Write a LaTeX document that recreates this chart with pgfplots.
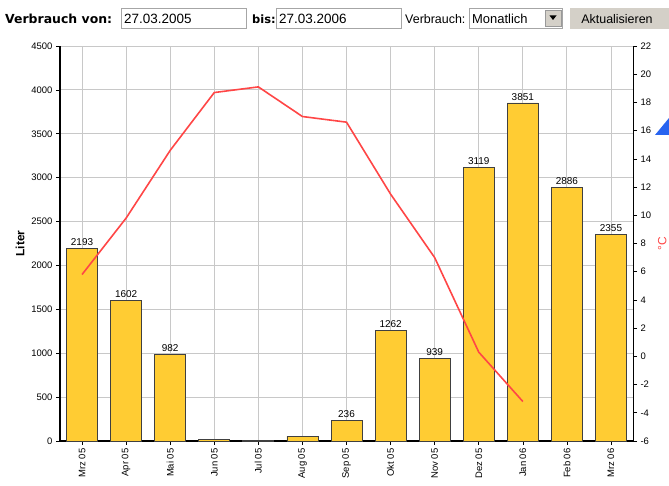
\documentclass[border=0pt]{standalone}
\usepackage{fontspec}
\setmainfont{Liberation Sans}
\newfontfamily\dvs{DejaVu Sans}
\usepackage{pgfplots}
\pgfplotsset{compat=1.18}
\definecolor{barfill}{RGB}{255,204,51}
\definecolor{linered}{RGB}{255,70,70}
\definecolor{gridgray}{RGB}{200,200,200}
\definecolor{btngray}{RGB}{212,208,200}
\definecolor{triblue}{RGB}{40,100,240}
\begin{document}
\begin{tikzpicture}[x=1bp,y=1bp]
\path[use as bounding box] (0,0) rectangle (669,486);
% ---- top form bar ----
\node[anchor=base west, inner sep=0pt, font=\dvs\bfseries\fontsize{12.5}{14}\selectfont] at (5,462) {Verbrauch von:};
\draw[gray!70, fill=white] (121,458) rectangle (246,478);
\node[anchor=base west, inner sep=0pt, font=\fontsize{13.5}{15}\selectfont] at (124,462) {27.03.2005};
\node[anchor=base west, inner sep=0pt, font=\dvs\bfseries\fontsize{11.5}{14}\selectfont] at (252,462) {bis:};
\draw[gray!70, fill=white] (276,458) rectangle (401,478);
\node[anchor=base west, inner sep=0pt, font=\fontsize{13.5}{15}\selectfont] at (279,462) {27.03.2006};
\node[anchor=base west, inner sep=0pt, font=\fontsize{12.5}{14}\selectfont] at (405,462) {Verbrauch:};
\draw[gray!70, fill=white] (469,458) rectangle (562,478);
\node[anchor=base west, inner sep=0pt, font=\fontsize{13}{15}\selectfont] at (472,462) {Monatlich};
\draw[gray!80, fill=btngray] (545,460) rectangle (561,476);
\fill[black] (549.5,470.5) -- (556.5,470.5) -- (553,466) -- cycle;
\fill[btngray] (570,457) rectangle (669,478);
\node[anchor=base, inner sep=0pt, font=\fontsize{12.5}{14}\selectfont] at (617,462) {Aktualisieren};
% ---- bar axis ----
\begin{axis}[
  at={(60bp,45bp)}, anchor=south west, scale only axis,
  width=573bp, height=395bp,
  xmin=-0.5, xmax=12.5, ymin=0, ymax=4500,
  xtick={0,...,12},
  xticklabels={Mrz 05,Apr 05,Mai 05,Jun 05,Jul 05,Aug 05,Sep 05,Okt 05,Nov 05,Dez 05,Jan 06,Feb 06,Mrz 06},
  xticklabel style={rotate=90, anchor=east, font=\fontsize{9.5}{10}\selectfont},
  ytick={0,500,...,4500},
  yticklabel style={font=\fontsize{9.5}{11}\selectfont},
  /pgf/number format/assume math mode=true,
  /pgf/number format/1000 sep={},
  grid=major, grid style={gridgray, line width=0.8bp},
  axis x line*=bottom, axis y line*=left,
  x axis line style={-, line width=1.8bp},
  y axis line style={-, line width=1.8bp},
  tick align=outside, major tick length=4bp,
  tick style={black, line width=0.6bp},
  ylabel={\bfseries Liter}, ylabel style={font=\fontsize{12}{14}\selectfont},
  clip=false,
]
\addplot[ybar, bar width=31bp, fill=barfill, draw=black!75, line width=0.8bp,
  point meta=explicit symbolic,
  nodes near coords, every node near coord/.append style={font=\fontsize{10}{11}\selectfont, black, yshift=-1bp}]
  coordinates {
  (0,2193) [2193]
  (1,1602) [1602]
  (2,982) [982]
  (3,15) []
  (4,3) []
  (5,55) []
  (6,236) [236]
  (7,1262) [1262]
  (8,939) [939]
  (9,3119) [3119]
  (10,3851) [3851]
  (11,2886) [2886]
  (12,2355) [2355]
  };
\end{axis}
% ---- temperature axis ----
\begin{axis}[
  at={(60bp,45bp)}, anchor=south west, scale only axis,
  width=573bp, height=395bp,
  xmin=-0.5, xmax=12.5, ymin=-6, ymax=22,
  ytick={-6,-4,...,22},
  yticklabel style={font=\fontsize{9.5}{11}\selectfont},
  /pgf/number format/assume math mode=true,
  axis x line=none, axis y line*=right,
  y axis line style={-, line width=1bp},
  tick align=outside, major tick length=4bp,
  tick style={black, line width=0.6bp},
  ylabel={°C}, ylabel style={font=\fontsize{12}{14}\selectfont, text=linered},
  clip=false,
]
\addplot[linered, line width=1.6bp, mark=none] coordinates {
  (0,5.8) (1,9.8) (2,14.6) (3,18.7) (4,19.1) (5,17.0) (6,16.6) (7,11.5) (8,7.0) (9,0.3) (10,-3.2)
};
\end{axis}
\fill[triblue] (655,351) -- (669,351) -- (669,368) -- cycle;
\end{tikzpicture}
\end{document}
